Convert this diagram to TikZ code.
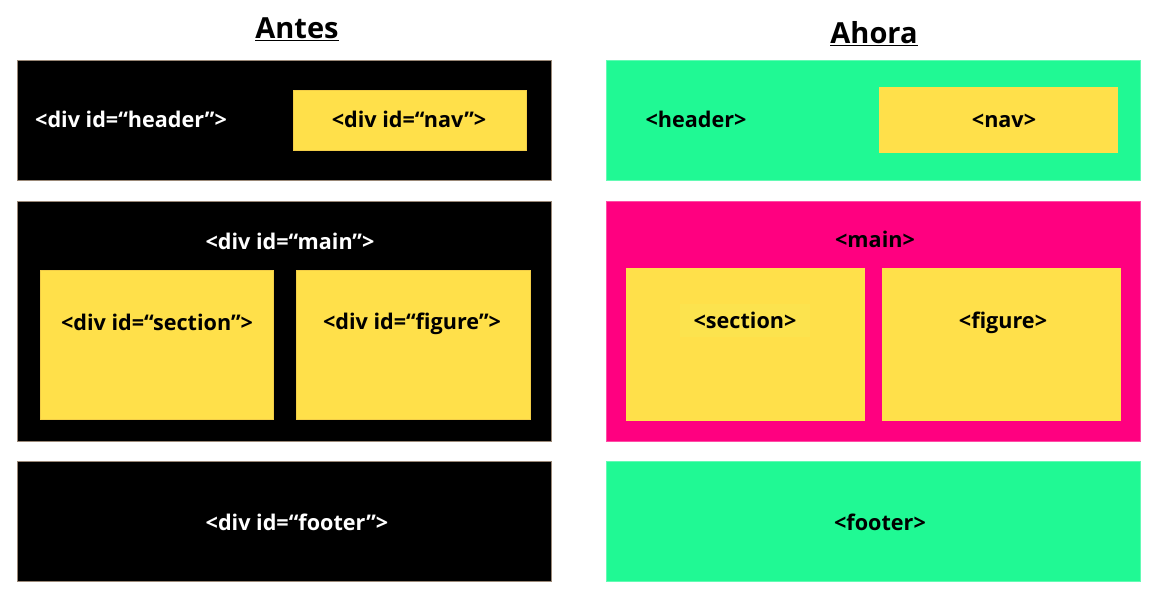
\documentclass[tikz,border=0pt]{standalone}
\usepackage{fontspec}
\setmainfont{Open Sans}
\begin{document}
\begin{tikzpicture}[x=1pt,y=-1pt,
  every node/.style={font=\bfseries\fontsize{21.6}{24}\selectfont},
  block/.style={anchor=north west, inner sep=0pt, outer sep=0pt},
  oldbox/.style={block, fill=black, draw=black!55!brown!60, line width=0.8pt},
  newbox/.style={block, fill=mint, draw=mint!70!white, line width=0.6pt},
  mainbox/.style={block, fill=hotpink, draw=hotpink!70!white, line width=0.6pt},
  inner/.style={block, fill=sun, draw=sun!80!brown, line width=0.5pt},
  innernew/.style={block, fill=sun},
  wlabel/.style={text=white, inner sep=0pt, anchor=mid, yshift=-6pt},
  blabel/.style={text=black, inner sep=0pt, anchor=mid, yshift=-6pt},
  title/.style={font=\bfseries\fontsize{29}{33}\selectfont, inner sep=0pt}]
\definecolor{sun}{HTML}{FFE04A}
\definecolor{sunlabel}{HTML}{FCE34E}
\definecolor{mint}{HTML}{20F994}
\definecolor{hotpink}{HTML}{FF0080}
\useasboundingbox (0,0) rectangle (1159,606);

% titles
\node[title] (antes) at (297,29) {\underline{Antes}};
\node[title] (ahora) at (874,34) {\underline{Ahora}};

% old layout with divs
\node[oldbox, minimum width=534, minimum height=120] (oheader) at (17,60) {};
\node[inner, minimum width=233, minimum height=60] (onav) at (293,90) {};
\node[wlabel, anchor=mid west] (oheadertxt) at (35,119) {<div id=“header”>};
\node[blabel] (onavtxt) at (409,119) {<div id=“nav”>};

\node[oldbox, minimum width=534, minimum height=240] (omain) at (17,201) {};
\node[wlabel] (omaintxt) at (290,241) {<div id=“main”>};
\node[inner, minimum width=233, minimum height=149] (osection) at (40,270) {};
\node[inner, minimum width=234, minimum height=149] (ofigure) at (296,270) {};
\node[blabel] (osectiontxt) at (157,322) {<div id=“section”>};
\node[blabel] (ofiguretxt) at (412,321) {<div id=“figure”>};

\node[oldbox, minimum width=534, minimum height=120] (ofooter) at (17,461) {};
\node[wlabel] (ofootertxt) at (297,522) {<div id=“footer”>};

% new layout with semantic elements
\node[newbox, minimum width=534, minimum height=120] (nheader) at (606,60) {};
\node[innernew, minimum width=239, minimum height=66] (nnav) at (879,87) {};
\node[blabel] (nheadertxt) at (696,119) {<header>};
\node[blabel] (nnavtxt) at (1004,119) {<nav>};

\node[mainbox, minimum width=534, minimum height=240] (nmain) at (606,201) {};
\node[blabel] (nmaintxt) at (875,239) {<main>};
\node[innernew, minimum width=239, minimum height=153] (nsection) at (626,268) {};
\node[innernew, minimum width=239, minimum height=153] (nfigure) at (882,268) {};
\node[blabel, fill=sunlabel, inner xsep=14pt, inner ysep=8pt] (nsectiontxt) at (745,320) {<section>};
\node[blabel] (nfiguretxt) at (1003,320) {<figure>};

\node[newbox, minimum width=534, minimum height=120] (nfooter) at (606,461) {};
\node[blabel] (nfootertxt) at (880,522) {<footer>};
\end{tikzpicture}
\end{document}
